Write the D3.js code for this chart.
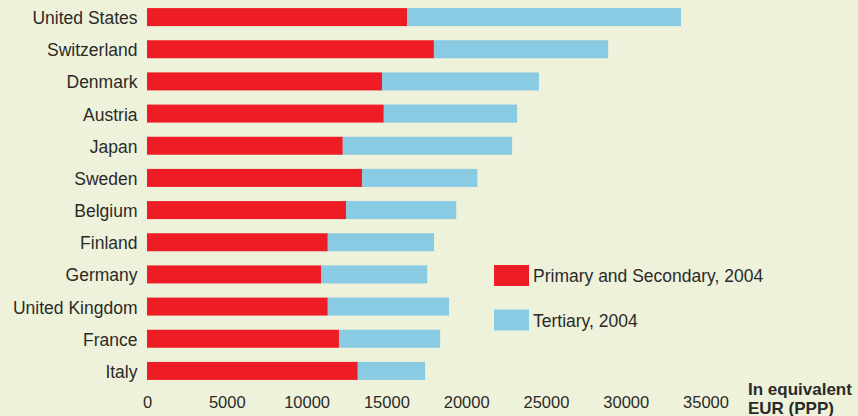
<!DOCTYPE html>
<html>
<head>
<meta charset="utf-8">
<script src="https://cdn.jsdelivr.net/npm/d3@7"></script>
<style>
  html, body { margin: 0; padding: 0; background: #eef2da; }
  svg { display: block; font-family: "Liberation Sans", Arial, sans-serif; }
</style>
</head>
<body>
<svg id="chart" width="858" height="416"></svg>
<script>
// ============= Data =============
const countries = ['United States', 'Switzerland', 'Denmark', 'Austria', 'Japan', 'Sweden',
  'Belgium', 'Finland', 'Germany', 'United Kingdom', 'France', 'Italy'];

// Spending per student, equivalent EUR (PPP)
const primarySecondary = [16300, 17980, 14730, 14840, 12270, 13480, 12470, 11330, 10910, 11330, 12030, 13210];
const tertiary = [17170, 10920, 9830, 8350, 10610, 7220, 6910, 6660, 6650, 7600, 6340, 4220];

const xTicks = [0, 5000, 10000, 15000, 20000, 25000, 30000, 35000];
const seriesNames = ['Primary and Secondary, 2004', 'Tertiary, 2004'];
const seriesColors = ['#ee1d25', '#88cbe2'];

// ============= Scales =============
const svg = d3.select('#chart');
const textColor = '#2b2a29';

const x = d3.scaleLinear()
  .domain([0, 35000])
  .range([147, 705.5]);

const y = d3.scaleBand()
  .domain(countries)
  .range([1, 387])
  .paddingInner(0.44)
  .paddingOuter(0.22);

// ============= Bars =============
const rows = countries.map((c, i) => ({
  country: c,
  parts: [
    {x0: 0, x1: primarySecondary[i], s: 0},
    {x0: primarySecondary[i], x1: primarySecondary[i] + tertiary[i], s: 1}
  ]
}));

const rowG = svg.append('g')
  .selectAll('g')
  .data(rows)
  .enter()
  .append('g')
  .attr('transform', d => 'translate(0,' + y(d.country) + ')');

rowG.selectAll('rect')
  .data(d => d.parts)
  .enter()
  .append('rect')
  .attr('x', d => x(d.x0))
  .attr('width', d => x(d.x1) - x(d.x0))
  .attr('height', y.bandwidth())
  .attr('fill', d => seriesColors[d.s]);

// Country labels
rowG.append('text')
  .attr('x', 137.5)
  .attr('y', y.bandwidth() / 2)
  .attr('dy', '0.4em')
  .attr('text-anchor', 'end')
  .attr('font-size', 17.5)
  .attr('fill', textColor)
  .text(d => d.country);

// ============= X axis (labels only) =============
const xAxis = svg.append('g')
  .attr('transform', 'translate(0,408)')
  .call(d3.axisBottom(x).tickValues(xTicks).tickSize(0).tickPadding(0).tickFormat(d3.format('d')));

xAxis.select('.domain').remove();
xAxis.selectAll('text')
  .attr('y', 0)
  .attr('dy', 0)
  .attr('font-size', 16.5)
  .attr('font-family', '"Liberation Sans", Arial, sans-serif')
  .attr('fill', textColor);

// Axis unit label
const unit = svg.append('text')
  .attr('x', 748)
  .attr('y', 395)
  .attr('font-size', 17)
  .attr('font-weight', 'bold')
  .attr('fill', textColor);
unit.append('tspan').attr('x', 748).text('In equivalent');
unit.append('tspan').attr('x', 748).attr('dy', 19).text('EUR (PPP)');

// ============= Legend =============
const legend = svg.append('g')
  .selectAll('g')
  .data(seriesNames)
  .enter()
  .append('g')
  .attr('transform', (d, i) => 'translate(494,' + (265 + i * 44.5) + ')');

legend.append('rect')
  .attr('width', 35)
  .attr('height', 21)
  .attr('fill', (d, i) => seriesColors[i]);

legend.append('text')
  .attr('x', 39)
  .attr('y', 17)
  .attr('font-size', 17.5)
  .attr('fill', textColor)
  .text(d => d);
</script>
</body>
</html>
